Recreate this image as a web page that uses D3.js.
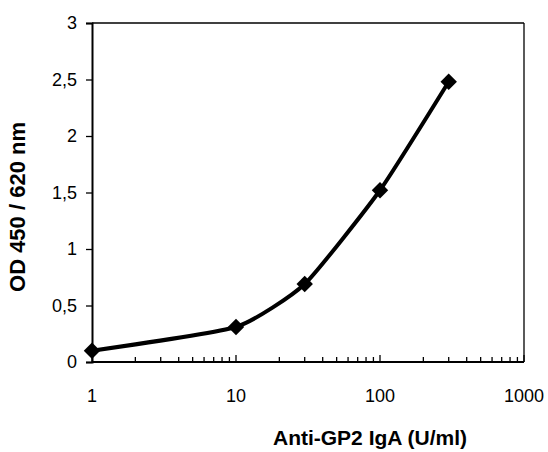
<!DOCTYPE html>
<html>
<head>
<meta charset="utf-8">
<script src="https://cdn.jsdelivr.net/npm/d3@7"></script>
<style>
  body { margin: 0; background: #fff; }
  svg { display: block; font-family: "Liberation Sans", Arial, sans-serif; }
</style>
</head>
<body>
<div class="chart"></div>
<script>
// values
const conc = [1, 10, 30, 100, 300];
const od = [0.1, 0.31, 0.69, 1.52, 2.48];
const yTicks = [0, 0.5, 1, 1.5, 2, 2.5, 3];
const xMajor = [1, 10, 100, 1000];

const W = 548, H = 452;
const margin = {top: 23, left: 92, right: 24, bottom: 90};
const width = W - margin.left - margin.right;
const height = H - margin.top - margin.bottom;

const svg = d3.select(".chart").append("svg")
  .attr("width", W)
  .attr("height", H);

const g = svg.append("g")
  .attr("transform", "translate(" + margin.left + "," + margin.top + ")");

const x = d3.scaleLog().domain([1, 1000]).range([0, width]);
const y = d3.scaleLinear().domain([0, 3]).range([height, 0]);

const fmt = d => String(d).replace(".", ",");

// frame (top and right)
g.append("line").attr("x1", 0).attr("x2", width).attr("y1", 0).attr("y2", 0)
  .attr("stroke", "#000").attr("stroke-width", 1.3);
g.append("line").attr("x1", width).attr("x2", width).attr("y1", 0).attr("y2", height)
  .attr("stroke", "#000").attr("stroke-width", 1.3);

// y axis
const yAxis = g.append("g")
  .call(d3.axisLeft(y).tickValues(yTicks).tickFormat(fmt).tickSize(6).tickPadding(9));
yAxis.select(".domain").attr("stroke-width", 2);
yAxis.selectAll(".tick line").attr("stroke-width", 1.3);
yAxis.selectAll("text").attr("font-size", 18).attr("fill", "#000")
  .attr("font-family", "Liberation Sans, Arial, sans-serif");

// x axis, ticks pointing inward
const minor = [];
for (let p = 0; p < 3; p++) for (let k = 2; k <= 9; k++) minor.push(k * Math.pow(10, p));

const xAxis = g.append("g")
  .attr("transform", "translate(0," + height + ")");
xAxis.append("line").attr("x1", 0).attr("x2", width).attr("stroke", "#000").attr("stroke-width", 2);
xAxis.selectAll(".minor").data(minor).enter().append("line")
  .attr("class", "minor")
  .attr("x1", d => x(d)).attr("x2", d => x(d))
  .attr("y1", 0).attr("y2", -5)
  .attr("stroke", "#000").attr("stroke-width", 1.3);
xAxis.selectAll(".major").data(xMajor).enter().append("line")
  .attr("class", "major")
  .attr("x1", d => x(d)).attr("x2", d => x(d))
  .attr("y1", 0).attr("y2", -7)
  .attr("stroke", "#000").attr("stroke-width", 1.3);
xAxis.selectAll(".lab").data(xMajor).enter().append("text")
  .attr("class", "lab")
  .attr("x", d => x(d)).attr("y", 40)
  .attr("text-anchor", "middle")
  .attr("font-size", 18)
  .text(d => d);

// curve
const pts = conc.map((c, i) => [c, od[i]]);
const line = d3.line()
  .x(d => x(d[0]))
  .y(d => y(d[1]))
  .curve(d3.curveCardinal.tension(0.5));

g.append("path")
  .datum(pts)
  .attr("d", line)
  .attr("fill", "none")
  .attr("stroke", "#000")
  .attr("stroke-width", 4)
  .attr("stroke-linejoin", "round");

g.selectAll(".pt").data(pts).enter().append("path")
  .attr("class", "pt")
  .attr("d", d3.symbol().type(d3.symbolSquare).size(135))
  .attr("transform", d => "translate(" + x(d[0]) + "," + y(d[1]) + ") rotate(45)")
  .attr("fill", "#000");

// axis titles
svg.append("text")
  .attr("x", 370).attr("y", 445)
  .attr("text-anchor", "middle")
  .attr("font-size", 21).attr("font-weight", "bold")
  .text("Anti-GP2 IgA (U/ml)");

svg.append("text")
  .attr("transform", "translate(25,207) rotate(-90)")
  .attr("text-anchor", "middle")
  .attr("font-size", 22).attr("font-weight", "bold")
  .text("OD 450 / 620 nm");
</script>
</body>
</html>
